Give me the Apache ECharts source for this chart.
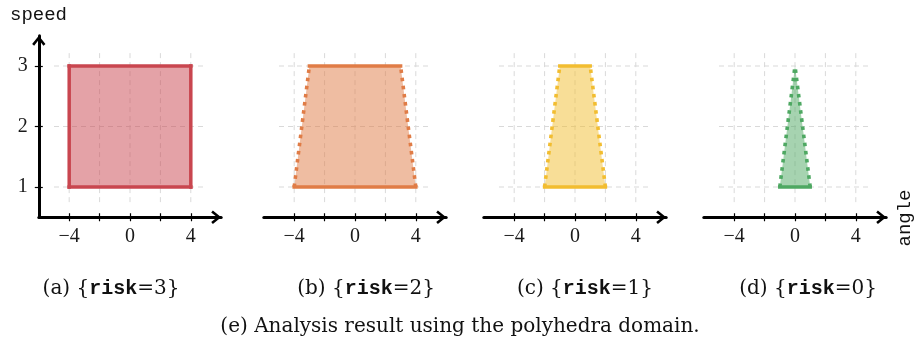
<!DOCTYPE html>
<html>
<head>
<meta charset="utf-8">
<script src="https://cdn.jsdelivr.net/npm/echarts@6/dist/echarts.min.js"></script>
<style>
html, body { margin: 0; padding: 0; background: #fff; }
#chart { width: 915px; height: 348px; }
</style>
</head>
<body>
<div id="chart"></div>
<script>
// values
var panelNames = ['(a)', '(b)', '(c)', '(d)'];
var riskLevels = [3, 2, 1, 0];
var bottomLeft = [-4, -4, -2, -1];
var bottomRight = [4, 4, 2, 1];
var topLeft = [-4, -3, -1, 0];
var topRight = [4, 3, 1, 0];
var speedLow = 1;
var speedHigh = 3;
var xTicks = [-4, -2, 0, 2, 4];
var xTickLabels = [-4, 0, 4];
var yTicks = [1, 2, 3];
var sidesDotted = [false, true, true, true];
var panelColors = ['#c9464f', '#e07c46', '#f2bd30', '#4ea862'];

// layout
var centers = [130, 355, 575, 795];
var captionX = [111, 366, 585, 808];
var unitX = 15.2;
var serif = '"Liberation Serif", "DejaVu Serif", serif';
var capSerif = '"DejaVu Serif", "Liberation Serif", serif';
var mono = '"Liberation Mono", "DejaVu Sans Mono", monospace';
var arrowPath = 'path://M6,0 L12,7.5 L10.2,9 L6,3.6 L1.8,9 L0,7.5 Z';

var fmt = function (v) {
    return v < 0 ? '\u2212' + Math.abs(v) : String(v);
};

var gridLineItem = function (params, api) {
    var a = api.coord([api.value(0), api.value(1)]);
    var b = api.coord([api.value(2), api.value(3)]);
    return {
        type: 'line',
        shape: { x1: a[0], y1: a[1], x2: b[0], y2: b[1] },
        style: { stroke: '#d9d9d9', lineWidth: 1, lineDash: [5, 4] }
    };
};

var polygonItem = function (params, api) {
    var pts = [];
    for (var k = 0; k < 4; k++) {
        pts.push(api.coord([api.value(2 * k), api.value(2 * k + 1)]));
    }
    return {
        type: 'polygon',
        shape: { points: pts },
        style: { fill: api.visual('color'), opacity: 0.5 }
    };
};

var gridSegments = [];
xTicks.forEach(function (x) { gridSegments.push([x, 0.75, x, 3.25]); });
yTicks.forEach(function (y) { gridSegments.push([-5, y, 5, y]); });

var grids = [], xAxes = [], yAxes = [], series = [], graphics = [];

for (var i = 0; i < 4; i++) {
    grids.push({ left: centers[i] - 6 * unitX, top: 35.75, width: 12 * unitX, height: 181.5 });

    xAxes.push({
        type: 'value', gridIndex: i, min: -6, max: 6, position: 'bottom',
        axisLine: { show: true, onZero: false, symbol: ['none', arrowPath], symbolSize: [18, 10], symbolOffset: [0, -5],
            lineStyle: { color: '#000', width: 3 } },
        axisTick: { show: true, customValues: xTicks, length: 4, lineStyle: { color: '#000', width: 1.2 } },
        axisLabel: { show: true, customValues: xTickLabels, margin: 9, formatter: fmt,
            fontFamily: serif, fontSize: 20, color: '#1a1a1a' },
        splitLine: { show: false }
    });
    xAxes.push({
        type: 'value', gridIndex: i, min: -6, max: 6, position: 'bottom',
        axisLine: { show: false, onZero: false },
        axisTick: { show: true, inside: true, customValues: xTicks, length: 4, lineStyle: { color: '#000', width: 1.2 } },
        axisLabel: { show: false },
        splitLine: { show: false }
    });

    var showY = i === 0;
    yAxes.push({
        type: 'value', gridIndex: i, min: 0.5, max: 3.5, position: 'left', show: showY,
        axisLine: { show: true, onZero: false, symbol: ['none', arrowPath], symbolSize: [18, 10], symbolOffset: [0, -5],
            lineStyle: { color: '#000', width: 3 } },
        axisTick: { show: true, customValues: yTicks, length: 4, lineStyle: { color: '#000', width: 1.2 } },
        axisLabel: { show: true, customValues: yTicks, margin: 11, formatter: fmt,
            fontFamily: serif, fontSize: 20, color: '#1a1a1a' },
        splitLine: { show: false }
    });
    yAxes.push({
        type: 'value', gridIndex: i, min: 0.5, max: 3.5, position: 'left', show: showY,
        axisLine: { show: false, onZero: false },
        axisTick: { show: true, inside: true, customValues: yTicks, length: 4, lineStyle: { color: '#000', width: 1.2 } },
        axisLabel: { show: false },
        splitLine: { show: false }
    });

    var xi = 2 * i, yi = 2 * i;
    var col = panelColors[i];

    series.push({
        type: 'custom', xAxisIndex: xi, yAxisIndex: yi, z: 1, silent: true,
        renderItem: gridLineItem, data: gridSegments
    });
    series.push({
        type: 'custom', xAxisIndex: xi, yAxisIndex: yi, z: 2, silent: true, itemStyle: { color: col },
        renderItem: polygonItem,
        data: [[bottomLeft[i], speedLow, bottomRight[i], speedLow, topRight[i], speedHigh, topLeft[i], speedHigh]]
    });

    var solid = { color: col, width: 3.5, type: 'solid', cap: 'square' };
    var side = sidesDotted[i] ? { color: col, width: 3.6, type: [3.6, 4.6], cap: 'butt' } : solid;
    var edges = [
        [[bottomLeft[i], speedLow], [bottomRight[i], speedLow], solid],
        [[topLeft[i], speedHigh], [topRight[i], speedHigh], solid],
        [[bottomLeft[i], speedLow], [topLeft[i], speedHigh], side],
        [[bottomRight[i], speedLow], [topRight[i], speedHigh], side]
    ];
    edges.forEach(function (e) {
        series.push({
            type: 'line', xAxisIndex: xi, yAxisIndex: yi, z: 3, silent: true,
            showSymbol: false, symbol: 'none', data: [e[0], e[1]], lineStyle: e[2]
        });
    });

    graphics.push({
        type: 'text', x: captionX[i], y: 289,
        style: {
            text: panelNames[i] + ' {{m|risk}=' + riskLevels[i] + '}',
            fontFamily: capSerif, fontSize: 20, fill: '#111', align: 'center', verticalAlign: 'middle',
            rich: { m: { fontFamily: mono, fontWeight: 'bold', fontSize: 20, fill: '#111' } }
        }
    });
}

graphics.push({
    type: 'text', x: 460, y: 327,
    style: { text: '(e) Analysis result using the polyhedra domain.', fontFamily: capSerif, fontSize: 20,
        fill: '#111', align: 'center', verticalAlign: 'middle' }
});
graphics.push({
    type: 'text', x: 10, y: 15,
    style: { text: 'speed', fontFamily: mono, fontSize: 19, fill: '#111', align: 'left', verticalAlign: 'middle' }
});
graphics.push({
    type: 'text', x: 905, y: 218, rotation: Math.PI / 2,
    style: { text: 'angle', fontFamily: mono, fontSize: 19, fill: '#111', align: 'center', verticalAlign: 'middle' }
});

var myChart = echarts.init(document.getElementById('chart'));
myChart.setOption({
    animation: false,
    backgroundColor: '#fff',
    grid: grids,
    xAxis: xAxes,
    yAxis: yAxes,
    series: series,
    graphic: graphics
});
</script>
</body>
</html>
